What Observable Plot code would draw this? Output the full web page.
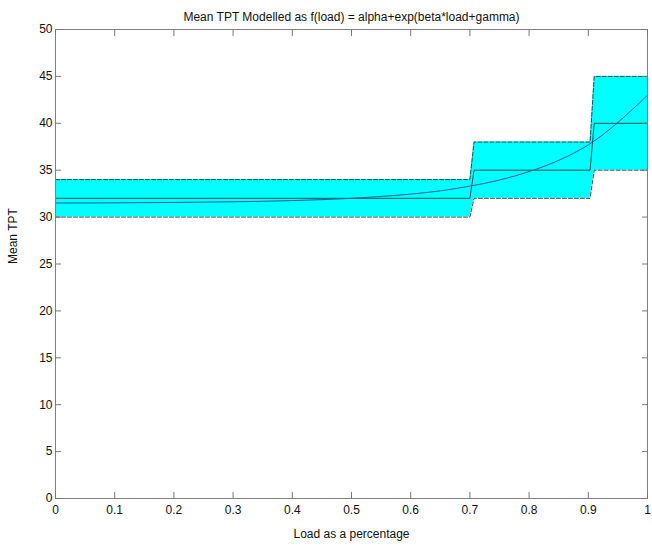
<!DOCTYPE html>
<html>
<head>
<meta charset="utf-8">
<script src="https://cdn.jsdelivr.net/npm/d3@7"></script>
<script src="https://cdn.jsdelivr.net/npm/@observablehq/plot@0.6"></script>
<style>
  html, body { margin: 0; padding: 0; background: #fff; }
  svg { font-family: "Liberation Sans", Arial, sans-serif; }
</style>
</head>
<body>
<div id="chart"></div>
<script>
const title = "Mean TPT Modelled as f(load) = alpha+exp(beta*load+gamma)";
const xLabel = "Load as a percentage";
const yLabel = "Mean TPT";

// Step band (bounds) and its mean
const bandX    = [0, 0.70, 0.707, 0.903, 0.91, 1];
const bandLow  = [30, 30, 32, 32, 35, 35];
const bandHigh = [34, 34, 38, 38, 45, 45];
const bandMean = [32, 32, 35, 35, 40, 40];

// Fitted curve
const curveX = [0, 0.1, 0.2, 0.3, 0.4, 0.5, 0.55, 0.6, 0.65, 0.7, 0.75, 0.8, 0.85, 0.9, 0.925, 0.95, 0.975, 1];
const curveY = [31.5, 31.52, 31.56, 31.63, 31.76, 32.0, 32.2, 32.45, 32.8, 33.3, 33.95, 34.85, 36.05, 37.7, 38.8, 40.1, 41.5, 43.0];

const xTicks = [0, 0.1, 0.2, 0.3, 0.4, 0.5, 0.6, 0.7, 0.8, 0.9, 1];
const yTicks = [0, 5, 10, 15, 20, 25, 30, 35, 40, 45, 50];

const band = bandX.map((x, i) => ({x, lo: bandLow[i], hi: bandHigh[i], m: bandMean[i]}));
const curve = curveX.map((x, i) => ({x, y: curveY[i]}));

const edge = {stroke: "#2b3b3b", strokeWidth: 0.9, strokeDasharray: "4,2"};
const tickStyle = {stroke: "#777"};

const chart = Plot.plot({
  width: 652,
  height: 550,
  marginLeft: 55,
  marginRight: 5,
  marginTop: 29,
  marginBottom: 52,
  style: {fontFamily: "'Liberation Sans', Arial, sans-serif", fontSize: "12px", color: "#111", background: "#fff"},
  x: {domain: [0, 1]},
  y: {domain: [0, 50]},
  marks: [
    Plot.areaY(band, {x: "x", y1: "lo", y2: "hi", fill: "#00ffff", curve: "linear"}),
    Plot.line(band, {x: "x", y: "lo", ...edge}),
    Plot.line(band, {x: "x", y: "hi", ...edge}),
    Plot.line(band, {x: "x", y: "m", stroke: "#1a4f55", strokeWidth: 1}),
    Plot.line(curve, {x: "x", y: "y", stroke: "#1f5a96", strokeWidth: 1, curve: "monotone-x"}),
    Plot.frame({stroke: "#808080"}),
    Plot.axisX(xTicks, {anchor: "bottom", tickSize: 0, tickPadding: 7, label: null, tickFormat: d => String(d), fill: "#111"}),
    Plot.axisX(xTicks, {anchor: "bottom", tickSize: -6, text: null, label: null, ...tickStyle}),
    Plot.axisX(xTicks, {anchor: "top", tickSize: -6, text: null, label: null, ...tickStyle}),
    Plot.axisY(yTicks, {anchor: "left", tickSize: 0, tickPadding: 3, label: null, fill: "#111"}),
    Plot.axisY(yTicks, {anchor: "left", tickSize: -6, text: null, label: null, ...tickStyle}),
    Plot.axisY(yTicks, {anchor: "right", tickSize: -6, text: null, label: null, ...tickStyle}),
    Plot.text([title], {frameAnchor: "top", dy: -17, fontSize: 12, fill: "#111"}),
    Plot.text([xLabel], {frameAnchor: "bottom", dy: 39, fontSize: 12, fill: "#111"}),
    Plot.text([yLabel], {frameAnchor: "left", dx: -42, rotate: -90, fontSize: 12, fill: "#111"})
  ]
});
document.getElementById("chart").appendChild(chart);
</script>
</body>
</html>
